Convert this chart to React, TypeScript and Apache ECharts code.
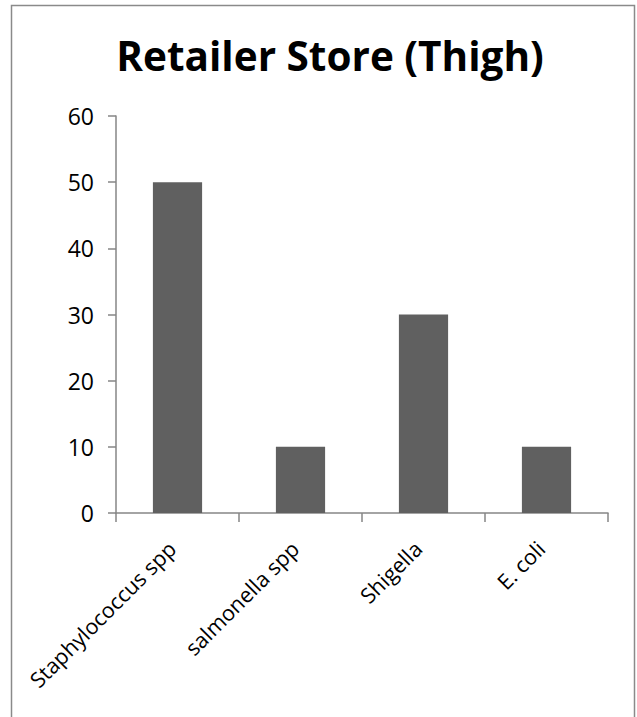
import React, { useEffect, useRef } from "react";
import * as echarts from "echarts";

const categories = ["Staphylococcus spp", "salmonella spp", "Shigella", "E. coli"];
const values = [50, 10, 30, 10];
const titleText = "Retailer Store (Thigh)";

export default function App() {
  const ref = useRef<HTMLDivElement>(null);
  useEffect(() => {
    if (!ref.current) return;
    const chart = echarts.init(ref.current, null, { renderer: "svg" });
    chart.setOption({
      animation: false,
      backgroundColor: "#ffffff",
      title: {
        text: titleText,
        left: 325,
        textAlign: "center",
        top: 30,
        textStyle: { fontFamily: "Open Sans", fontWeight: "bold", fontSize: 40.5, color: "#000" },
      },
      graphic: [
        {
          type: "rect",
          shape: { x: 11.5, y: 5.5, width: 623, height: 730 },
          style: { fill: "none", stroke: "#8a8a8a", lineWidth: 1.5 },
          silent: true,
        },
      ],
      grid: { left: 116, right: 29, top: 116, bottom: 204, containLabel: false },
      xAxis: {
        type: "category",
        data: categories,
        boundaryGap: true,
        axisLine: { show: true, lineStyle: { color: "#868686", width: 1.5 } },
        axisTick: { show: true, length: 9, lineStyle: { color: "#868686", width: 1.5 } },
        axisLabel: {
          rotate: 45,
          interval: 0,
          margin: 26,
          padding: [0, 8, 16, 0],
          fontFamily: "Open Sans",
          fontSize: 21.5,
          color: "#000",
        },
      },
      yAxis: {
        type: "value",
        min: 0,
        max: 60,
        interval: 10,
        axisLine: { show: true, lineStyle: { color: "#868686", width: 1.5 } },
        axisTick: { show: true, length: 8, lineStyle: { color: "#868686", width: 1.5 } },
        splitLine: { show: false },
        axisLabel: { margin: 22, fontFamily: "Open Sans", fontSize: 23, color: "#000" },
      },
      series: [
        {
          type: "bar",
          data: values,
          barWidth: "40%",
          itemStyle: { color: "#606060" },
        },
      ],
    });
    return () => chart.dispose();
  }, []);
  return (
    <div
      ref={ref}
      style={{ position: "fixed", left: 0, top: 0, width: 637, height: 717 }}
    />
  );
}
